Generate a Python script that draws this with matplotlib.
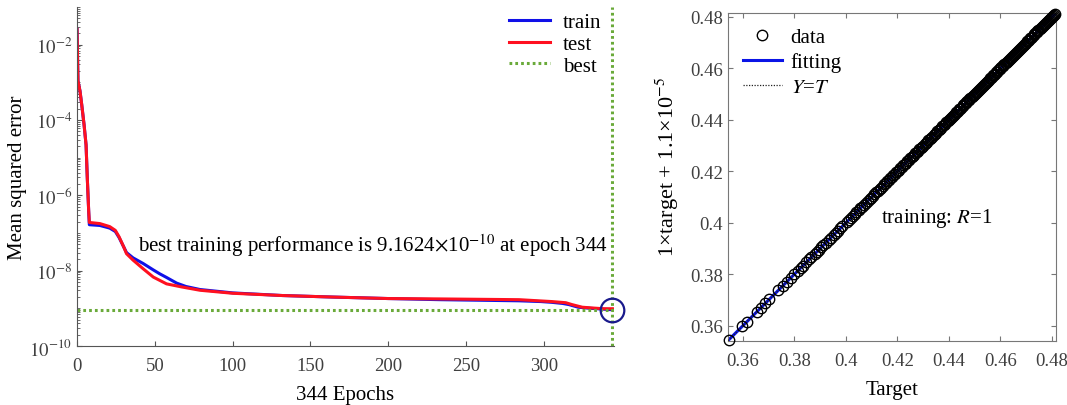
import numpy as np
import matplotlib
matplotlib.use("Agg")
import matplotlib.pyplot as plt
from matplotlib.ticker import FixedLocator, LogLocator, NullFormatter

plt.rcParams['font.family'] = ['Liberation Serif', 'DejaVu Serif']
plt.rcParams['mathtext.fontset'] = 'stix'

# performance curve (epoch, log10 of mse)
train_epoch = [0, 0.6, 1.9, 3, 4.5, 5.8, 6.6, 7.5, 7.9, 14.7, 21, 24.6, 27, 30, 31.8, 36,
               42.5, 49, 53, 57.5, 64, 70, 79, 100, 132, 164, 200, 233, 284, 298, 305,
               312, 316, 322, 330, 338, 344]
train_log = [-1.59, -2.96, -3.23, -3.59, -4.12, -4.66, -5.55, -6.43, -6.78, -6.80, -6.87,
             -6.96, -7.12, -7.37, -7.52, -7.66, -7.81, -7.98, -8.08, -8.18, -8.33, -8.42,
             -8.50, -8.59, -8.66, -8.70, -8.74, -8.77, -8.80, -8.82, -8.84, -8.87, -8.90,
             -8.97, -9.00, -9.02, -9.038]
test_epoch = [0, 0.6, 1.9, 3, 4.5, 5.8, 6.6, 7.5, 7.9, 14.7, 21, 24.6, 27, 30, 31.8, 36,
              42.5, 49, 57.5, 67, 79, 100, 132, 164, 200, 233, 284, 305, 314, 318, 324.6,
              331, 338, 344]
test_log = [-1.59, -2.96, -3.23, -3.59, -4.12, -4.66, -5.55, -6.43, -6.72, -6.75, -6.83,
            -6.93, -7.10, -7.37, -7.55, -7.72, -7.95, -8.17, -8.35, -8.43, -8.52, -8.60,
            -8.66, -8.70, -8.74, -8.75, -8.77, -8.82, -8.85, -8.90, -8.97, -8.99, -9.01,
            -9.01]
best_epoch = 344
best_perf = 9.1624e-10

# regression data (training targets); outputs equal targets, R = 1
targets = [
    0.3545, 0.3597, 0.3615, 0.3653, 0.3669, 0.3687, 0.3703, 0.3738, 0.3755, 0.3771,
    0.3786, 0.3799, 0.3813, 0.3824, 0.3832, 0.3846, 0.3858, 0.3866, 0.3879, 0.3887,
    0.3895, 0.3904, 0.3912, 0.3921, 0.3933, 0.3941, 0.3954, 0.3962, 0.3968, 0.3979,
    0.3986, 0.4003, 0.4011, 0.4018, 0.4027, 0.4034, 0.4041, 0.4049, 0.4056, 0.4063,
    0.4071, 0.4077, 0.4084, 0.4092, 0.4098, 0.4105, 0.4111, 0.4118, 0.4124, 0.4131,
    0.4137, 0.4143, 0.4149, 0.4156, 0.4161, 0.4167, 0.4173, 0.4179, 0.4184, 0.4190,
    0.4196, 0.4201, 0.4207, 0.4212, 0.4218, 0.4223, 0.4229, 0.4234, 0.4239, 0.4245,
    0.4250, 0.4255, 0.4261, 0.4265, 0.4270, 0.4276, 0.4280, 0.4285, 0.4291, 0.4295,
    0.4300, 0.4306, 0.4310, 0.4315, 0.4320, 0.4326, 0.4330, 0.4335, 0.4341, 0.4345,
    0.4350, 0.4355, 0.4361, 0.4365, 0.4370, 0.4375, 0.4381, 0.4385, 0.4390, 0.4396,
    0.4400, 0.4404, 0.4409, 0.4412, 0.4417, 0.4420, 0.4424, 0.4429, 0.4432, 0.4436,
    0.4441, 0.4444, 0.4448, 0.4453, 0.4456, 0.4460, 0.4465, 0.4468, 0.4472, 0.4477,
    0.4480, 0.4484, 0.4489, 0.4492, 0.4496, 0.4501, 0.4504, 0.4508, 0.4513, 0.4516,
    0.4520, 0.4525, 0.4528, 0.4532, 0.4537, 0.4540, 0.4544, 0.4549, 0.4552, 0.4556,
    0.4561, 0.4564, 0.4568, 0.4573, 0.4576, 0.4580, 0.4585, 0.4588, 0.4592, 0.4597,
    0.4600, 0.4604, 0.4609, 0.4612, 0.4616, 0.4621, 0.4624, 0.4628, 0.4633, 0.4636,
    0.4640, 0.4645, 0.4648, 0.4652, 0.4657, 0.4660, 0.4664, 0.4669, 0.4672, 0.4676,
    0.4681, 0.4684, 0.4688, 0.4693, 0.4696, 0.4700, 0.4705, 0.4708, 0.4712, 0.4717,
    0.4720, 0.4724, 0.4729, 0.4732, 0.4736, 0.4741, 0.4744, 0.4748, 0.4753, 0.4756,
    0.4760, 0.4765, 0.4768, 0.4772, 0.4777, 0.4780, 0.4784, 0.4789, 0.4792, 0.4796,
    0.4801, 0.4804, 0.4808, 0.4812,
]
outputs = targets
fit_slope = 1.0
fit_intercept = 1.1e-5

tick_col = '#404040'
green = '#6aaa3a'
dots = (0, (0.9, 1.0))

fig = plt.figure(figsize=(10.67, 4.06), dpi=100)

# ---- left: training performance ----
ax1 = fig.add_axes([0.0722, 0.1453, 0.5032, 0.835])
ax1.plot(train_epoch, 10 ** np.array(train_log), color='#1010e8', lw=2.2, label='train')
ax1.plot(test_epoch, 10 ** np.array(test_log), color='#ff1020', lw=2.2, label='test')
ax1.axhline(best_perf, color=green, lw=2.2, ls=dots, label='best')
ax1.axvline(best_epoch, color=green, lw=2.2, ls=dots)
ax1.plot([best_epoch], [best_perf], 'o', ms=17, mfc='none', mec='#1a1a8c', mew=1.6,
         clip_on=False)
ax1.set_yscale('log')
ax1.set_xlim(0, 345)
ax1.set_ylim(1e-10, 1e-1)
ax1.xaxis.set_major_locator(FixedLocator([0, 50, 100, 150, 200, 250, 300]))
ax1.yaxis.set_major_locator(FixedLocator([1e-10, 1e-8, 1e-6, 1e-4, 1e-2]))
ax1.yaxis.set_minor_locator(LogLocator(base=10, subs=np.arange(1, 10), numticks=30))
ax1.yaxis.set_minor_formatter(NullFormatter())
ax1.set_yticklabels([r'$10^{-10}$', r'$10^{-8}$', r'$10^{-6}$', r'$10^{-4}$', r'$10^{-2}$'])
for s in ['top', 'right']:
    ax1.spines[s].set_visible(False)
for s in ['left', 'bottom']:
    ax1.spines[s].set_color('#555555')
ax1.tick_params(direction='in', colors='#555555', labelcolor=tick_col, labelsize=13.5)
ax1.tick_params(axis='x', pad=8)
ax1.tick_params(which='minor', direction='in', length=2.5, colors='#555555')
ax1.set_xlabel('344 Epochs', fontsize=15, labelpad=8)
ax1.set_ylabel('Mean squared error', fontsize=15, labelpad=2)
ax1.text(39, 10 ** -7.3,
         r'best training performance is 9.1624$\times$10$^{-10}$ at epoch 344',
         fontsize=15, ha='left', va='center')
ax1.legend(loc='upper right', bbox_to_anchor=(1.0, 1.02), frameon=False, fontsize=15,
           handlelength=2.0, labelspacing=0.1, handletextpad=0.6, borderaxespad=0.2)

# ---- right: regression ----
ax2 = fig.add_axes([0.6823, 0.1586, 0.3071, 0.8066])
lim = (0.3542, 0.4815)
fx = np.array(lim)
ax2.plot(fx, fit_slope * fx + fit_intercept, color='#0a14e6', lw=2.2, label='fitting',
         zorder=2)
ax2.plot(fx, fx, color='#202020', lw=0.9, ls=(0, (1, 1.2)), label='$Y$=$T$', zorder=3)
ax2.plot(targets, outputs, 'o', ms=7.5, mfc='none', mec='black', mew=1.0, label='data',
         zorder=4, clip_on=False)
ax2.set_xlim(*lim)
ax2.set_ylim(*lim)
ticks = [0.36, 0.38, 0.40, 0.42, 0.44, 0.46, 0.48]
tlabels = ['0.36', '0.38', '0.4', '0.42', '0.44', '0.46', '0.48']
ax2.set_xticks(ticks)
ax2.set_xticklabels(tlabels)
ax2.set_yticks(ticks)
ax2.set_yticklabels(tlabels)
for s in ax2.spines.values():
    s.set_color('#777777')
ax2.tick_params(direction='in', top=True, right=True, colors='#777777',
                labelcolor=tick_col, labelsize=13.5)
ax2.tick_params(axis='x', pad=8)
ax2.set_xlabel('Target', fontsize=15, labelpad=8)
ax2.set_ylabel('1×target + 1.1×10$^{-5}$', fontsize=16)
ax2.yaxis.set_label_coords(-0.145, 0.535)
ax2.text(0.4137, 0.4022, 'training: $R$=1', fontsize=15, ha='left', va='center')
h, l = ax2.get_legend_handles_labels()
order = [2, 0, 1]
ax2.legend([h[i] for i in order], [l[i] for i in order], loc='upper left',
           frameon=False, fontsize=15, handlelength=1.9, labelspacing=0.25,
           handletextpad=0.4, borderaxespad=0.3)

fig.savefig('out.png', dpi=100)
